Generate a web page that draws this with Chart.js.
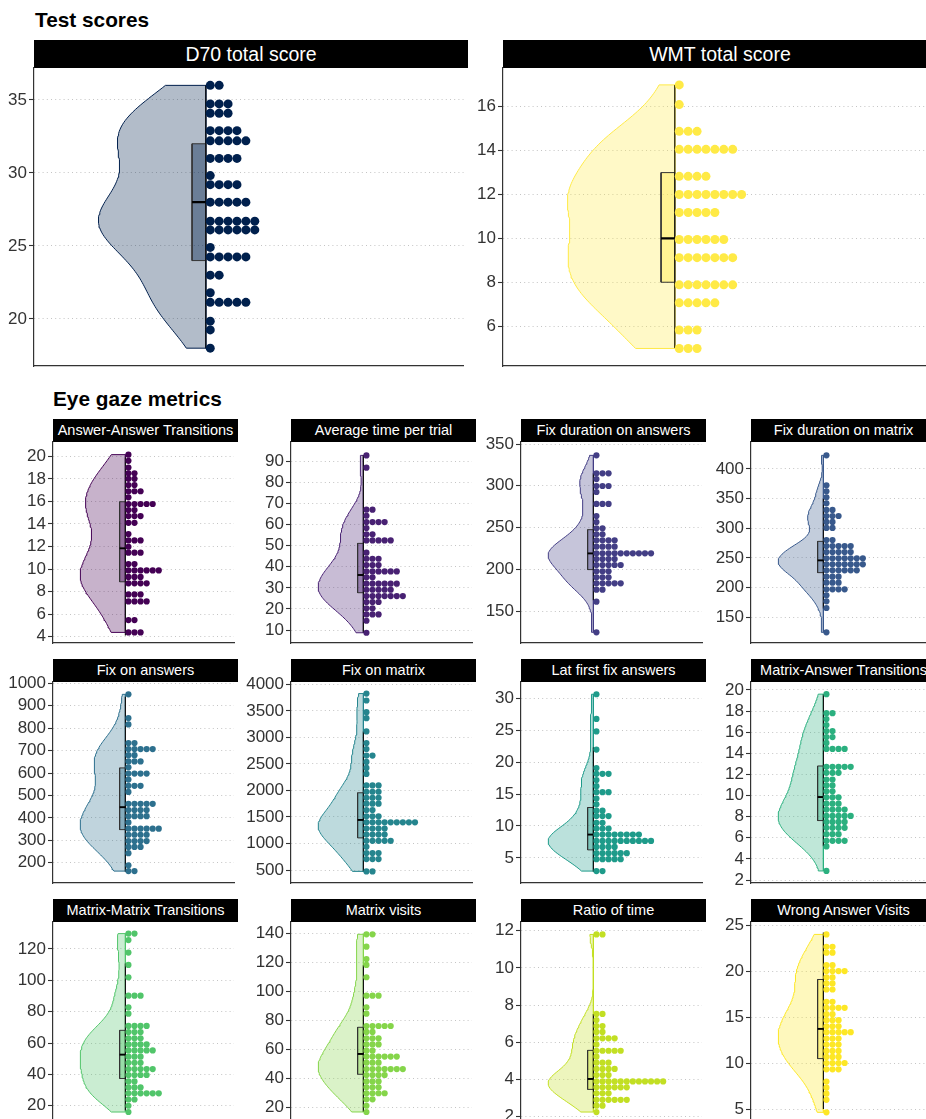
<!DOCTYPE html>
<html>
<head>
<meta charset="utf-8">
<script src="https://cdn.jsdelivr.net/npm/chart.js@4.4.0/dist/chart.umd.min.js"></script>
<style>
  body { margin: 0; width: 926px; height: 1119px; overflow: hidden; background: #fff; position: relative;
         font-family: "Liberation Sans", Arial, sans-serif; }
  .head { position: absolute; font-weight: bold; font-size: 20.8px; line-height: 20px; color: #000; }
  .strip { position: absolute; background: #000; color: #fff; text-align: center; white-space: nowrap; overflow: hidden; }
  canvas { position: absolute; }
</style>
</head>
<body>
<div class="head" style="left:35px;top:10px">Test scores</div>
<div class="head" style="left:53px;top:389px">Eye gaze metrics</div>
<script>
// dot rows: [value, number of dots in the row]
const d70Dots = [[36,2],[34.73,3],[34.09,3],[32.9,4],[32.2,5],[31.0,4],[29.82,1],[29.2,4],[28.0,5],[26.7,6],[26.1,6],[24.9,1],[24.25,5],[23.0,2],[21.8,1],[21.14,5],[19.85,1],[19.25,1],[18.0,1]];
const wmtDots = [[17,1],[16.1,1],[14.88,3],[14.06,7],[12.83,4],[12.0,8],[11.18,5],[9.95,6],[9.12,7],[7.88,7],[7.06,5],[5.82,3],[4.98,3]];
const ansAnsDots = [[20.15,1],[19.6,1],[19.0,1],[18.5,2],[18.0,2],[17.45,2],[16.9,3],[16.36,1],[15.77,5],[15.24,2],[14.7,3],[14.1,2],[13.1,1],[12.54,3],[11.98,1],[11.45,3],[10.44,2],[9.88,6],[9.3,3],[8.73,4],[7.75,3],[7.13,4],[5.47,2],[4.38,3]];
const avgTimeDots = [[92.85,1],[87.0,1],[67.1,2],[64.2,1],[61.2,4],[58.4,1],[55.4,2],[52.5,5],[46.7,1],[43.8,3],[40.8,3],[37.8,6],[35.0,2],[32.0,6],[29.1,5],[26.1,7],[23.3,3],[20.3,2],[17.4,3],[14.4,1],[8.7,1]];
const fixDurAnsDots = [[336.4,1],[314.9,3],[308,1],[299.7,3],[292.5,1],[278.2,3],[263.8,1],[256.6,1],[249,2],[241.9,2],[234.7,4],[227.1,4],[219.1,10],[212.3,4],[205.1,5],[197.6,3],[190.4,3],[183.2,5],[175.6,2],[161.2,1],[124.5,1]];
const fixDurMatDots = [[423,1],[372.5,1],[362.4,1],[352.2,1],[342.1,1],[331,2],[320.8,3],[310.7,2],[300.6,2],[280.3,2],[270.2,5],[260.1,5],[249.4,7],[239.3,7],[229.2,6],[218.5,3],[208.4,3],[197.2,4],[187.1,1],[177,1],[165.7,1],[124.7,1]];
const fixAnsDots = [[951,1],[845,1],[817,1],[734,2],[707,5],[680,2],[652,3],[626,1],[598,4],[571,1],[543,3],[516,1],[463,5],[435,4],[408,4],[380,1],[352,6],[325,4],[297,4],[271,3],[243,1],[189,1],[163,2]];
const fixMatDots = [[3825,1],[3694,1],[3475,1],[3362,1],[3112,1],[2894,1],[2781,1],[2656,2],[2537,1],[2425,1],[2312,1],[2094,3],[1975,3],[1862,3],[1750,3],[1631,2],[1512,3],[1400,9],[1281,4],[1169,4],[1050,5],[937,1],[819,3],[706,3],[475,2]];
const latFixDots = [[30.68,1],[26.8,1],[24.84,1],[22.0,1],[19.1,1],[18.18,3],[17.2,1],[16.25,1],[15.3,3],[14.3,1],[13.4,1],[12.4,2],[11.56,3],[10.5,2],[9.6,3],[8.65,8],[7.66,10],[6.72,4],[5.73,6],[4.79,5],[2.92,2]];
const matAnsDots = [[19.6,1],[17.8,2],[17.24,1],[16.67,1],[16.1,2],[15.54,2],[14.98,1],[14.41,4],[12.72,5],[12.15,3],[11.52,2],[10.96,2],[10.4,2],[9.83,3],[9.23,3],[8.67,4],[8.07,5],[7.5,4],[6.94,4],[6.34,3],[5.71,4],[5.18,1],[2.86,1]];
const matMatDots = [[129.8,2],[125.7,1],[117.7,1],[109.8,1],[101.9,1],[90.2,3],[82.8,1],[78.7,1],[70.9,4],[67.0,3],[63.0,3],[59.1,4],[55.3,5],[51.3,3],[47.4,3],[43.4,5],[39.6,4],[35.5,2],[31.7,3],[27.9,6],[24.0,2],[20.0,1],[16.0,1]];
const matVisDots = [[139.3,2],[130.8,1],[122.3,1],[118.2,1],[109.7,1],[97.0,3],[89.0,1],[84.6,1],[76.1,5],[72.0,2],[67.6,3],[63.4,3],[59.1,2],[55.0,6],[50.8,3],[46.4,7],[42.3,4],[37.9,3],[33.8,3],[29.7,4],[25.5,2],[21.1,1],[16.8,1]];
const ratioDots = [[11.8,2],[7.52,2],[7.19,1],[6.87,2],[6.55,2],[6.21,4],[5.88,1],[5.54,5],[5.22,1],[4.9,3],[4.56,4],[4.23,3],[3.89,12],[3.57,6],[3.25,3],[2.9,6],[2.58,2],[2.24,1]];
const wrongDots = [[23.98,1],[22.64,2],[21.99,2],[20.64,2],[19.99,4],[19.3,2],[18.65,2],[17.99,2],[16.65,2],[16.0,4],[15.31,2],[14.66,3],[14.0,3],[13.35,5],[12.66,3],[12.0,3],[11.32,3],[10.66,3],[10.0,4],[9.32,3],[7.98,1],[7.32,1],[6.67,1],[6.0,1],[4.64,1]];

const panelTitles = ['D70 total score', 'WMT total score', 'Answer-Answer Transitions', 'Average time per trial',
  'Fix duration on answers', 'Fix duration on matrix', 'Fix on answers', 'Fix on matrix', 'Lat first fix answers',
  'Matrix-Answer Transitions', 'Matrix-Matrix Transitions', 'Matrix visits', 'Ratio of time', 'Wrong Answer Visits'];
const panelDots = [d70Dots, wmtDots, ansAnsDots, avgTimeDots, fixDurAnsDots, fixDurMatDots, fixAnsDots, fixMatDots,
  latFixDots, matAnsDots, matMatDots, matVisDots, ratioDots, wrongDots];
// boxplot: [lower whisker, q1, median, q3, upper whisker]
const boxStats = [[18,24,28,32,36],[5,8,10,13,17],[4.1,8.87,11.84,15.97,19.9],[8.7,27.7,36.1,51.1,93],
  [163,199.6,219,247.4,315],[165,225.3,246,278,350],[160,348,448,623,940],[475,1106,1444,1956,3112],
  [2.8,6.25,8.65,12.9,22.3],[5.2,7.63,9.86,12.8,19.6],[17,37.4,52.6,68.1,110.8],[17,42.8,56.8,75.2,118],
  [2.44,3.46,4.02,5.56,7.52],[5.0,10.48,13.71,19.08,24.2]];
const yTicks = [[20,25,30,35],[6,8,10,12,14,16],[4,6,8,10,12,14,16,18,20],[10,20,30,40,50,60,70,80,90],
  [150,200,250,300,350],[150,200,250,300,350,400],[200,300,400,500,600,700,800,900,1000],
  [500,1000,1500,2000,2500,3000,3500,4000],[5,10,15,20,25,30],[2,4,6,8,10,12,14,16,18,20],
  [20,40,60,80,100,120],[20,40,60,80,100,120,140],[2,4,6,8,10,12],[5,10,15,20,25]];
const yRanges = [[16.78,37.19],[4.18,17.77],[3.44,21.27],[3.84,99.2],[111.7,352.4],[106.7,445.5],[110,1006],
  [256,4043],[1.05,32.6],[1.72,20.75],[9,137.2],[9.2,147.8],[1.65,12.47],[3.48,25.33]];
const panelColors = ['#00204D', '#FFEA46', '#440154', '#482173', '#433E85', '#38598C', '#2D708E', '#25858E',
  '#1E9B8A', '#2BB07F', '#51C56A', '#85D54A', '#C2DF23', '#FDE725'];

// layout
const PAD = 16;
const X_MIN = -1, X_MAX = 1.5, VIOLIN_HALF = 0.625, BOX_W = 0.08;
const panelBoxes = [
  {x: 34, y: 68, w: 434, h: 298, axisW: 34, big: true},
  {x: 503, y: 68, w: 434, h: 298, axisW: 40, big: true}
];
const colLefts = [53, 291, 521, 751], rowTops = [442, 682, 922];
rowTops.forEach(top => colLefts.forEach(left => panelBoxes.push({x: left, y: top, w: 185, h: 201, axisW: 50, big: false})));

function withAlpha(hex, a) {
  const n = parseInt(hex.slice(1), 16);
  return `rgba(${n >> 16},${(n >> 8) & 255},${n & 255},${a})`;
}

function quantile(sorted, p) {
  const h = (sorted.length - 1) * p, lo = Math.floor(h);
  const next = sorted[Math.min(lo + 1, sorted.length - 1)];
  return sorted[lo] + (h - lo) * (next - sorted[lo]);
}

// half violin: gaussian kde of the dot values, trimmed to the data range
function violinOutline(values) {
  const v = values.slice().sort((a, b) => a - b);
  const n = v.length;
  const mean = v.reduce((s, t) => s + t, 0) / n;
  const sd = Math.sqrt(v.reduce((s, t) => s + (t - mean) ** 2, 0) / (n - 1));
  const iqr = quantile(v, 0.75) - quantile(v, 0.25);
  const bw = 0.9 * Math.min(sd, iqr / 1.34) * Math.pow(n, -0.2);
  const lo = v[0], hi = v[n - 1], steps = 120;
  const ys = [], dens = [];
  for (let i = 0; i <= steps; i++) {
    const y = lo + (hi - lo) * i / steps;
    let d = 0;
    for (const t of v) d += Math.exp(-0.5 * ((y - t) / bw) ** 2);
    ys.push(y); dens.push(d);
  }
  const peak = Math.max(...dens);
  const pts = [{x: 0, y: lo}];
  ys.forEach((y, i) => pts.push({x: -VIOLIN_HALF * dens[i] / peak, y: y}));
  pts.push({x: 0, y: hi}, {x: 0, y: lo});
  return pts;
}

function makePanel(i) {
  const b = panelBoxes[i];
  const color = panelColors[i];
  const stripH = b.big ? 28 : 23;

  const strip = document.createElement('div');
  strip.className = 'strip';
  strip.textContent = panelTitles[i];
  Object.assign(strip.style, {left: b.x + 'px', top: (b.y - stripH) + 'px', width: b.w + 'px',
    height: stripH + 'px', lineHeight: stripH + 'px', fontSize: (b.big ? 19.5 : 14.5) + 'px'});
  document.body.appendChild(strip);

  const canvas = document.createElement('canvas');
  canvas.width = b.axisW + b.w;
  canvas.height = b.h + 2 * PAD;
  canvas.style.left = (b.x - b.axisW) + 'px';
  canvas.style.top = (b.y - PAD) + 'px';
  document.body.appendChild(canvas);

  const dotDiam = b.big ? 9 : 6.2;
  const step = dotDiam / (b.w / (X_MAX - X_MIN));
  const dots = [];
  panelDots[i].forEach(([y, count]) => {
    for (let k = 0; k < count; k++) dots.push({x: (k + 0.5) * step, y: y});
  });
  const values = panelDots[i].flatMap(([y, count]) => Array(count).fill(y));
  const [lo, q1, med, q3, hi] = boxStats[i];
  const ticks = yTicks[i];

  new Chart(canvas, {
    type: 'scatter',
    data: {
      datasets: [
        {data: dots, pointRadius: dotDiam / 2, pointBackgroundColor: color, pointBorderWidth: 0, order: 0},
        {type: 'line', data: [{x: -BOX_W, y: med}, {x: 0, y: med}], borderColor: '#000', borderWidth: b.big ? 2.2 : 1.9,
         pointRadius: 0, fill: false, order: 1},
        {type: 'line', data: [{x: 0, y: lo}, {x: 0, y: hi}], borderColor: '#111', borderWidth: 1.2,
         pointRadius: 0, fill: false, order: 2},
        {type: 'line', data: [{x: -BOX_W, y: q1}, {x: 0, y: q1}, {x: 0, y: q3}, {x: -BOX_W, y: q3}, {x: -BOX_W, y: q1}],
         borderColor: '#333', borderWidth: 1, backgroundColor: withAlpha(color, 0.4), fill: 'shape', pointRadius: 0, order: 3},
        {type: 'line', data: violinOutline(values), borderColor: color, borderWidth: 1,
         backgroundColor: withAlpha(color, 0.3), fill: 'shape', pointRadius: 0, tension: 0, order: 4}
      ]
    },
    options: {
      responsive: false,
      animation: false,
      devicePixelRatio: 1,
      layout: {padding: {top: PAD, bottom: PAD, left: 0, right: 0}},
      plugins: {legend: {display: false}, tooltip: {enabled: false}},
      scales: {
        x: {type: 'linear', min: X_MIN, max: X_MAX,
            afterFit: a => { a.height = 0; },
            ticks: {display: false},
            grid: {display: false, drawTicks: false},
            border: {color: '#333', width: 1.2}},
        y: {type: 'linear', min: yRanges[i][0], max: yRanges[i][1],
            afterFit: a => { a.width = b.axisW; },
            afterBuildTicks: a => { a.ticks = ticks.map(v => ({value: v})); },
            ticks: {color: '#333', padding: 2, autoSkip: false,
                    font: {size: 17, family: '"Liberation Sans", Arial, sans-serif'},
                    callback: v => String(v)},
            grid: {color: '#c4c4c4', lineWidth: 1, tickLength: 5, tickColor: '#333', tickWidth: 1.1},
            border: {color: '#333', width: 1.2, dash: [1, 3.2]}}
      }
    }
  });
}

panelTitles.forEach((t, i) => makePanel(i));
</script>
</body>
</html>
